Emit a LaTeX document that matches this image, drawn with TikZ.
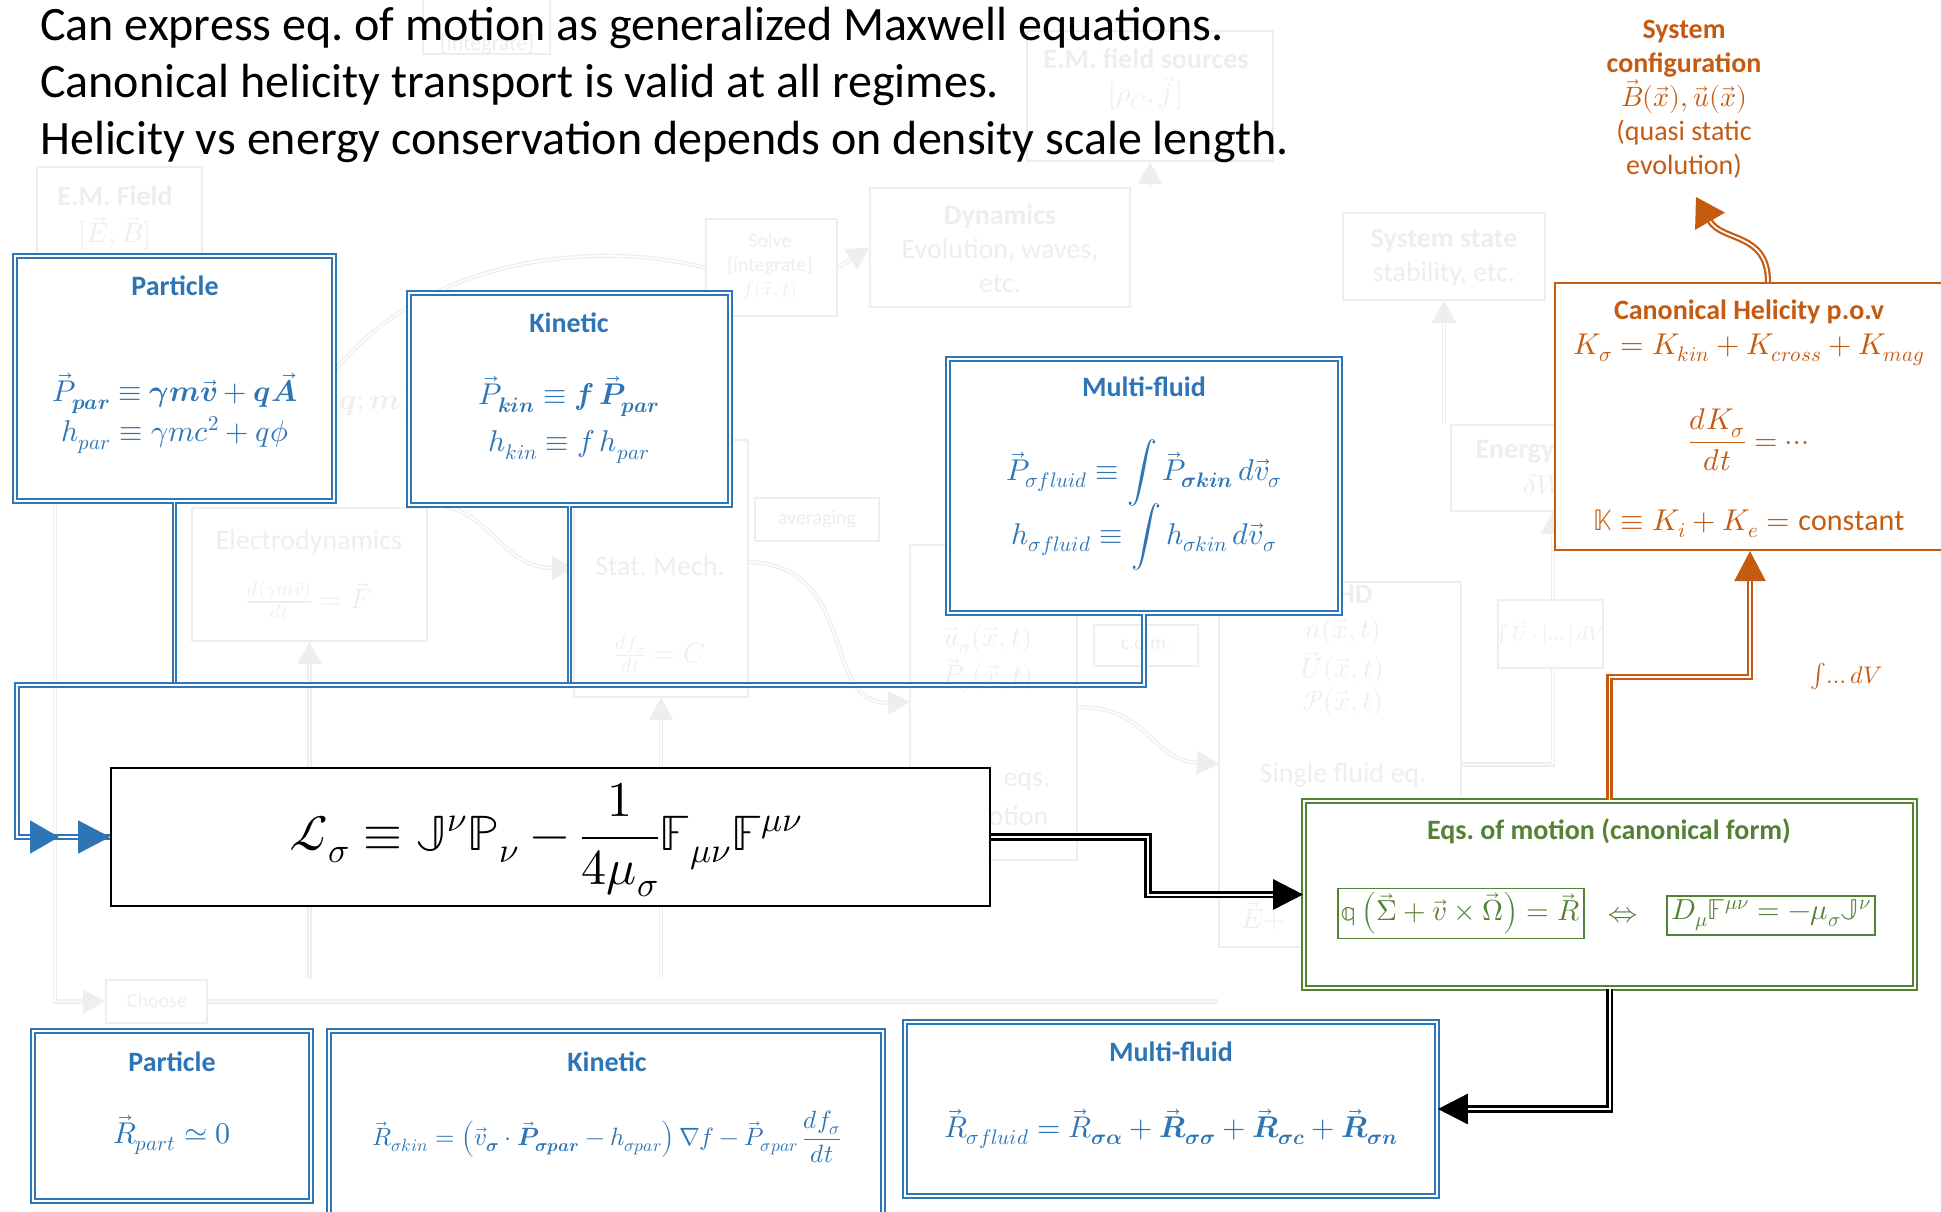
\documentclass[tikz,border=0pt]{standalone}
\usepackage{fontspec}
\usepackage{unicode-math}
\setmainfont{Carlito}
\setmathfont{Latin Modern Math}
\usetikzlibrary{arrows.meta}
\frenchspacing

\definecolor{pblue}{RGB}{46,117,182}
\definecolor{porange}{RGB}{197,90,17}
\definecolor{pgreen}{RGB}{84,130,53}
\definecolor{ghost}{RGB}{238,238,238}

\tikzset{
  % boxes
  bluebox/.style={draw=pblue, double, line width=1.7pt, double distance=2.4pt, fill=white, inner sep=0pt},
  greenbox/.style={draw=pgreen, double, line width=1.7pt, double distance=2.4pt, fill=white, inner sep=0pt},
  orangebox/.style={draw=porange, line width=2pt, fill=white, inner sep=0pt},
  lagbox/.style={draw=black, line width=2pt, fill=white, inner sep=0pt},
  eqframe/.style={draw=pgreen, line width=1.5pt, inner sep=4pt},
  ghostbox/.style={draw=ghost, line width=1.6pt, fill=white, inner sep=0pt},
  % links
  bluelink/.style={draw=pblue, double, line width=1.9pt, double distance=1.6pt},
  blacklink/.style={draw=black, double, line width=2.8pt, double distance=2pt},
  orangelink/.style={draw=porange, double, line width=2.2pt, double distance=1.8pt},
  ghostlink/.style={draw=ghost, double, line width=1.3pt, double distance=1.6pt},
  bigtip/.tip={Triangle[length=30pt,width=30pt]},
  gtip/.tip={Triangle[length=22pt,width=24pt]},
  % texts
  headline/.style={font=\fontsize{48}{57}\selectfont, inner sep=0pt},
  bluetitle/.style={text=pblue, font=\fontsize{28}{34}\selectfont\bfseries},
  blueeq/.style={text=pblue, font=\fontsize{30}{40}\selectfont, align=center},
  orangetext/.style={text=porange, font=\fontsize{28}{34}\selectfont, align=center},
  orangeeq/.style={text=porange, font=\fontsize{30}{40}\selectfont},
  greentext/.style={text=pgreen, font=\fontsize{28}{34}\selectfont\bfseries},
  greeneq/.style={text=pgreen, font=\fontsize{29}{38}\selectfont},
  ghosttext/.style={text=ghost, font=\fontsize{28}{34}\selectfont},
  ghostsmall/.style={text=ghost, font=\fontsize{20}{24}\selectfont},
}

\begin{document}
\begin{tikzpicture}[x=1pt,y=1pt,yscale=-1]
\useasboundingbox (0,0) rectangle (1941,1212);
\clip (0,0) rectangle (1941,1212);

%%% faded chart underneath

% Ghost Links
\draw[ghostlink] (335,370) .. controls (430,255) and (600,240) .. (706,268);
\draw[ghostlink,-gtip] (430,505) .. controls (490,505) and (500,568) .. (574,568);
\draw[ghostlink,-gtip] (748,562) .. controls (860,565) and (820,705) .. (910,702);
\draw[ghostlink,-gtip] (1077,707) .. controls (1150,707) and (1150,760) .. (1219,764);

% Ghost Boxes
\node[ghostbox, minimum width=127pt, minimum height=70pt] (gint) at (486.5,19) {};
\node[ghostbox, minimum width=246pt, minimum height=130pt] (gsrc) at (1150,96) {};
\node[ghostbox, minimum width=165pt, minimum height=87pt] (gfield) at (119.5,210.5) {};
\node[ghostbox, minimum width=131pt, minimum height=97pt] (gsolve) at (771.5,267.5) {};
\node[ghostbox, minimum width=260pt, minimum height=119pt] (gdyn) at (1000,247.5) {};
\node[ghostbox, minimum width=202pt, minimum height=87pt] (gstate) at (1444,256.5) {};
\node[ghostbox, minimum width=104pt, minimum height=86pt] (genergy) at (1503,468) {};
\node[ghostbox, minimum width=235pt, minimum height=133pt] (gelec) at (309.5,574.5) {};
\node[ghostbox, minimum width=124pt, minimum height=43pt] (gavg) at (817,519.5) {};
\node[ghostbox, minimum width=174pt, minimum height=257pt] (gstat) at (661,568.5) {};
\node[ghostbox, minimum width=167pt, minimum height=315pt] (gmf) at (993.5,702.5) {};
\node[ghostbox, minimum width=104pt, minimum height=41pt] (gcom) at (1146,645.5) {};
\node[ghostbox, minimum width=242pt, minimum height=365pt] (gmhd) at (1340,764.5) {};
\node[ghostbox, minimum width=101pt, minimum height=43pt] (gcho) at (156.5,1001.5) {};

\draw[ghostlink,-gtip] ([xshift=19pt]gfield.south west) |- (gcho.west);
\draw[ghostlink] (gcho.east) -- (gmhd.west |- gcho.east);
\draw[ghostlink,-gtip] (gelec.south |- gcho.north) -- (gelec.south);
\draw[ghostlink,-gtip] (gstat.south |- gcho.north) -- (gstat.south);
\draw[ghostlink,-gtip] (gsolve.east) -- (gdyn.west);
\draw[ghostlink,-gtip] (gdyn.north -| gsrc.south) -- (gsrc.south);
\draw[ghostlink,-gtip] (genergy.north -| gstate.south) -- (gstate.south);
\draw[ghostlink,-gtip] (gmhd.east) -| ([xshift=-3pt]genergy.south east);
\node[ghostbox, minimum width=105pt, minimum height=68pt] (gvol) at (1550.5,634) {};

% Ghost Texts
\node[ghostsmall, font=\fontsize{22}{26}\selectfont] (gintt) at (487,44) {[integrate]};
\node[ghosttext, font=\fontsize{28}{34}\selectfont\bfseries] (gsrct) at (1146,59) {E.M. field sources};
\node[ghosttext] (gsrcm) at (1146,93) {$[\rho_{C},\vec{j}\,]$};
\node[ghosttext, font=\fontsize{28}{34}\selectfont\bfseries] (gfieldt) at (115,196) {E.M. Field};
\node[ghosttext] (gfieldm) at (115,233) {$[\vec{E},\vec{B}]$};
\node[ghostsmall, align=center] (gsolvet) at (770,267) {Solve\\{}[integrate]\\$f(\vec{x},t)$};
\node[ghosttext, align=center] (gdynt) at (1000,249) {\textbf{Dynamics}\\Evolution, waves,\\etc.};
\node[ghosttext, align=center] (gstatet) at (1444,258) {\textbf{System state}\\stability, etc.};
\node[ghosttext, font=\fontsize{28}{34}\selectfont\bfseries] (genergyt) at (1515,452) {Energy};
\node[ghosttext] (genergym) at (1545,485) {$\delta W$};
\node[ghosttext, font=\fontsize{30}{36}\selectfont] (gqm) at (370,402) {$\{\symbfit{q};\symbfit{m}\}$};
\node[ghosttext] (gelect) at (309,542) {Electrodynamics};
\node[ghosttext] (gelecm) at (309,600) {$\frac{d(\gamma m\vec{v})}{dt}=\vec{F}$};
\node[ghostsmall] (gavgt) at (817,519) {averaging};
\node[ghosttext] (gstatt) at (660,566) {Stat. Mech.};
\node[ghosttext] (gstatm) at (660,654) {$\frac{df_{\sigma}}{dt}=C$};
\node[ghosttext] (gmfu) at (988,640) {$\vec{u}_{\sigma}(\vec{x},t)$};
\node[ghosttext] (gmfp) at (988,675) {$\vec{P}_{\sigma}(\vec{x},t)$};
\node[ghosttext, anchor=west] (gmfe) at (1000,782) {eqs.};
\node[ghosttext, anchor=east] (gmfo) at (1052,816) {of motion};
\node[ghostsmall] (gcomt) at (1146,645) {c.o.m.};
\node[ghosttext, font=\fontsize{28}{34}\selectfont\bfseries, anchor=east] (gmhdt) at (1376,594) {MHD};
\node[ghosttext] (gmhdn) at (1343,631) {$n(\vec{x},t)$};
\node[ghosttext] (gmhdu) at (1343,668) {$\vec{U}(\vec{x},t)$};
\node[ghosttext] (gmhdp) at (1343,703) {$\mathcal{P}(\vec{x},t)$};
\node[ghosttext] (gmhds) at (1343,775) {Single fluid eq.};
\node[ghosttext] (gmhde) at (1263,916) {$\vec{E}+$};
\node[ghostsmall] (gvolt) at (1550,634) {$\int\vec{U}\cdot[\dots]\,dV$};
\node[ghostsmall] (gchot) at (157,1001) {Choose};

%%% headline
\node[headline, anchor=base west] (line1) at (40,41) {Can express eq. of motion as generalized Maxwell equations.};
\node[headline, anchor=base west] (line2) at (40,98) {Canonical helicity transport is valid at all regimes.};
\node[headline, anchor=base west] (line3) at (40,155) {Helicity vs energy conservation depends on density scale length.};

%%% momentum definitions
\node[bluebox, minimum width=319pt, minimum height=245pt] (ppar) at (174.5,378.5) {};
\node[bluebox, minimum width=321pt, minimum height=212pt] (pkin) at (569.5,399) {};
\node[bluebox, minimum width=392pt, minimum height=254pt] (pfluid) at (1144,486) {};

\node[bluetitle] (pparT) at (175,286) {Particle};
\node[blueeq] (pparE) at (175,413) {$\vec{P}_{\symbfit{par}} \equiv \symbfit{\gamma m}\vec{\symbfit{v}} + \symbfit{q}\vec{\symbfit{A}}$\\$h_{par} \equiv \gamma m c^{2} + q\phi$};
\node[bluetitle] (pkinT) at (569,323) {Kinetic};
\node[blueeq, font=\fontsize{30}{47}\selectfont] (pkinE) at (569,420) {$\vec{P}_{\symbfit{kin}} \equiv \symbfit{f}\,\vec{\symbfit{P}}_{\symbfit{par}}$\\$h_{kin} \equiv f\,h_{par}$};
\node[bluetitle] (pfluidT) at (1144,387) {Multi-fluid};
\node[blueeq] (pfluidE) at (1144,473) {$\vec{P}_{\sigma fluid} \equiv \displaystyle\int \vec{P}_{\symbfit{\sigma kin}}\,d\vec{v}_{\sigma}$};
\node[blueeq] (pfluidH) at (1144,537) {$h_{\sigma fluid} \equiv \displaystyle\int h_{\sigma kin}\,d\vec{v}_{\sigma}$};

%%% Lagrangian
\node[lagbox, minimum width=879pt, minimum height=138pt] (lag) at (550.5,837) {};
\node[font=\fontsize{50}{60}\selectfont] (lagE) at (546,840) {$\displaystyle \mathcal{L}_{\sigma} \equiv \mathbb{J}^{\nu}\mathbb{P}_{\nu} - \frac{1}{4\mu_{\sigma}}\mathbb{F}_{\mu\nu}\mathbb{F}^{\mu\nu}$};

%%% equations of motion
\node[greenbox, minimum width=611pt, minimum height=187pt] (eqs) at (1609.5,894.5) {};
\node[greentext] (eqsT) at (1609,831) {Eqs. of motion (canonical form)};
\node[greeneq, eqframe] (eqsL) at (1461,913.5) {$\mathbb{q}\left(\vec{\Sigma} + \vec{v}\times\vec{\Omega}\right) = \vec{R}$};
\node[greeneq] (eqsI) at (1623,915) {$\Leftrightarrow$};
\node[greeneq, eqframe] (eqsR) at (1771,915.5) {$D_{\mu}\mathbb{F}^{\mu\nu} = -\mu_{\sigma}\mathbb{J}^{\nu}$};

%%% canonical helicity
\node[orangebox, minimum width=390pt, minimum height=267pt] (helic) at (1750,416.5) {};
\node[orangetext, font=\fontsize{28}{34}\selectfont\bfseries] (helicT) at (1749,312) {Canonical Helicity p.o.v};
\node[orangeeq] (helicK) at (1749,350) {$K_{\sigma} = K_{kin} + K_{cross} + K_{mag}$};
\node[orangeeq] (helicD) at (1749,440) {$\displaystyle\frac{dK_{\sigma}}{dt} = \cdots$};
\node[orangeeq] (helicC) at (1749,524) {$\mathbb{K} \equiv K_{i} + K_{e} = \mathrm{constant}$};
\node[orangeeq, font=\fontsize{24}{30}\selectfont] (volint) at (1847,677) {$\int\!\ldots dV$};

\node[orangetext] (syscfg) at (1684,99) {\textbf{System}\\\textbf{configuration}\\$\vec{B}(\vec{x}),\vec{u}(\vec{x})$\\(quasi static\\evolution)};

%%% collision terms
\node[bluebox, minimum width=278pt, minimum height=170pt] (rpart) at (172,1116) {};
\node[bluebox, minimum width=554pt, minimum height=229pt] (rkin) at (606,1145.5) {};
\node[bluebox, minimum width=532pt, minimum height=174pt] (rfluid) at (1171,1109) {};

\node[bluetitle] (rpartT) at (172,1062) {Particle};
\node[blueeq] (rpartE) at (172,1135) {$\vec{R}_{part} \simeq 0$};
\node[bluetitle] (rkinT) at (607,1062) {Kinetic};
\node[blueeq, font=\fontsize{25}{30}\selectfont] (rkinE) at (607,1137) {$\displaystyle\vec{R}_{\sigma kin} = \left(\vec{v}_{\symbfit{\sigma}}\cdot\vec{\symbfit{P}}_{\symbfit{\sigma par}} - h_{\sigma par}\right)\nabla f - \vec{P}_{\sigma par}\,\frac{df_{\sigma}}{dt}$};
\node[bluetitle] (rfluidT) at (1171,1052) {Multi-fluid};
\node[blueeq] (rfluidE) at (1171,1129) {$\vec{R}_{\sigma fluid} = \vec{R}_{\symbfit{\sigma\alpha}} + \vec{\symbfit{R}}_{\symbfit{\sigma\sigma}} + \vec{\symbfit{R}}_{\symbfit{\sigma c}} + \vec{\symbfit{R}}_{\symbfit{\sigma n}}$};

%%% links
\coordinate (busL) at (17,685);
\draw[bluelink] (ppar.south) |- (busL) |- (lag.west);
\draw[bluelink] (pkin.south) |- (busL) |- (lag.west);
\draw[bluelink, -{Triangle[length=29pt,width=33pt,sep=19pt] Triangle[length=32pt,width=33pt]}] (pfluid.south) |- (busL) |- (lag.west);

\coordinate (jogA) at (1148,866);
\draw[blacklink, -bigtip] (lag.east) -| (jogA) |- (eqs.west);
\draw[blacklink, -bigtip] (eqs.south) |- (rfluid.east);

\coordinate (jogB) at (1750,677);
\draw[orangelink, -{Triangle[length=30pt,width=31pt]}] (eqs.north) |- (jogB) -- (helic.south);

\coordinate (cfgtip) at (1696,197);
\draw[orangelink, -{Triangle[length=28pt,width=34pt]}] ([xshift=18pt]helic.north) .. controls (1768,232) and (1722,242) .. (cfgtip);

\end{tikzpicture}
\end{document}
